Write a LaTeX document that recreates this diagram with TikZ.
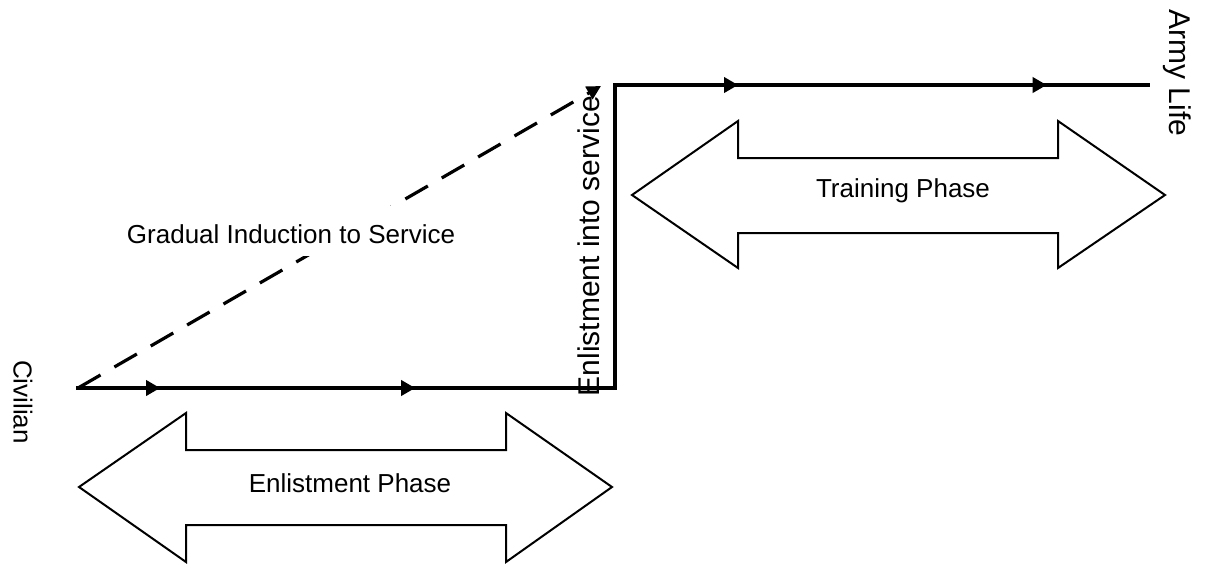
\documentclass[tikz,border=0pt]{standalone}
\usepackage{fontspec}
\setmainfont{Liberation Sans}
\usetikzlibrary{arrows.meta,decorations.markings}
\begin{document}
\begin{tikzpicture}[x=0.5pt,y=-0.5pt,
  flow/.style={line width=1.7pt, line cap=rect},
  flowtip/.tip={Triangle[length=7pt,width=7.5pt]},
  blockarrow/.style={draw, line width=1pt, line join=miter, fill=white},
  phaselabel/.style={font=\fontsize{13pt}{15pt}\selectfont, inner sep=0pt},
  sidelabel/.style={font=\fontsize{15pt}{18pt}\selectfont, inner sep=0pt},
  midarrows/.style 2 args={postaction={decorate}, decoration={markings,
      mark=at position #1 with {\arrow{flowtip}},
      mark=at position #2 with {\arrow{flowtip}}}}]
\useasboundingbox (0,0) rectangle (1210,563);

% route points
\coordinate (civ)   at (78,388);
\coordinate (lowbend) at (615,388);
\coordinate (upbend)  at (615,85);
\coordinate (army)  at (1148,85);
\coordinate (induct) at (601,86);

% block arrows for the two phases
\draw[blockarrow] (79,487) -- (186,413) -- (186,450) -- (506,450) -- (506,413)
  -- (612,487) -- (506,562) -- (506,525) -- (186,525) -- (186,562) -- cycle;
\draw[blockarrow] (632,195) -- (738,121) -- (738,158) -- (1058,158) -- (1058,121)
  -- (1165,195) -- (1058,268) -- (1058,233) -- (738,233) -- (738,268) -- cycle;
\node[phaselabel] (enlphase) at (350,483) {Enlistment Phase};
\node[phaselabel] (trainphase) at (903,191) {Training Phase};

% gradual route (dashed), its label sits on a white box over the line
\draw[line width=1.6pt, dash pattern=on 13pt off 8pt, -{Triangle[length=7pt,width=7pt]}]
  (civ) -- (induct);
\node[fill=white, inner xsep=5pt, inner ysep=0pt, text height=18.5pt, text depth=6.5pt,
  font=\fontsize{13pt}{15pt}\selectfont, anchor=base]
  (gradual) at (291,243) {Gradual Induction to Service};

% direct route
\draw[flow, midarrows={0.153}{0.628}] (civ) -- (lowbend);
\draw[flow] (lowbend) -- (upbend);
\draw[flow, midarrows={0.231}{0.81}] (upbend) -- (army);

% end and transition labels
\node[sidelabel, rotate=90] (enlist) at (589,246) {Enlistment into service};
\node[sidelabel, rotate=-90] (armylife) at (1177,73) {Army Life};
\node[phaselabel, rotate=-90] (civilian) at (23,402) {Civilian};
\end{tikzpicture}
\end{document}
